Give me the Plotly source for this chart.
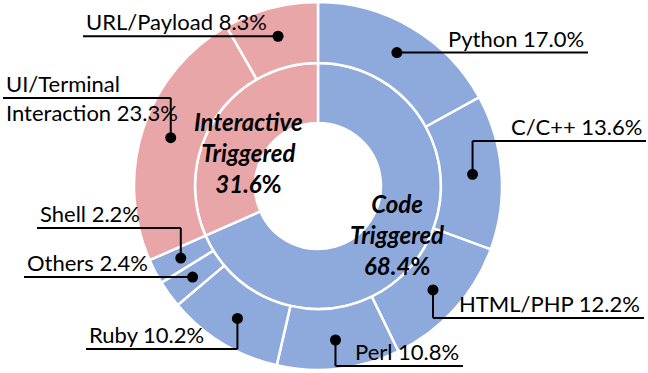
import math

import plotly.graph_objects as go

# ── Data ─────────────────────────────────────────────────────────────────────

GROUPS = ["Code Triggered", "Interactive Triggered"]
GROUP_VALUES = [68.4, 31.6]

SUBS = ["Python", "C/C++", "HTML/PHP", "Perl", "Ruby", "Others", "Shell",
        "UI/Terminal Interaction", "URL/Payload"]
SUB_VALUES = [17.0, 13.6, 12.2, 10.8, 10.2, 2.4, 2.2, 23.3, 8.3]
SUB_GROUP = [0, 0, 0, 0, 0, 0, 0, 1, 1]

BLUE = "#8EA9DC"
PINK = "#E8A6A8"
GROUP_COLORS = [BLUE, PINK]
FONT = "Lato, 'Open Sans', sans-serif"

W, H = 648, 373
CX, CY = 318, 186          # pie centre, px
R_OUT, R_MID, R_HOLE = 184, 123, 63
R_DOT = 155

# label layout: mode ('h' straight / 'v' elbow), elbow y, line end x, text anchor
LABEL_LAYOUT = [
    ("h", None, 588, "right"),
    ("v", 141, 646, "right"),
    ("v", 318, 644, "right"),
    ("v", 366, 463, "right"),
    ("v", 349, 86, "left"),
    ("h", None, 24, "left"),
    ("v", 228, 37, "left"),
    ("v", 98, 3, "left"),
    ("h", None, 83, "left"),
]


def dom(r):
    return dict(x=[(CX - r) / W, (CX + r) / W],
                y=[(H - CY - r) / H, (H - CY + r) / H])


fig = go.Figure()

fig.add_trace(go.Pie(
    labels=GROUPS, values=GROUP_VALUES, sort=False, direction="clockwise",
    rotation=0, hole=R_HOLE / R_MID, domain=dom(R_MID),
    marker=dict(colors=GROUP_COLORS, line=dict(color="white", width=2.5)),
    textinfo="none", hoverinfo="label+value", showlegend=False,
))
fig.add_trace(go.Pie(
    labels=SUBS, values=SUB_VALUES, sort=False, direction="clockwise",
    rotation=0, hole=R_MID / R_OUT, domain=dom(R_OUT),
    marker=dict(colors=[GROUP_COLORS[g] for g in SUB_GROUP],
                line=dict(color="white", width=2.5)),
    textinfo="none", hoverinfo="label+value", showlegend=False,
))

# dots at slice mid-angles, leader lines and labels (shapes sit above the pies)
total = sum(SUB_VALUES)
cum = 0.0
shapes, annotations = [], []
line_style = dict(color="black", width=2)
for name, val, (mode, ey, end_x, anchor) in zip(SUBS, SUB_VALUES, LABEL_LAYOUT):
    theta = 2 * math.pi * (cum + val / 2) / total
    cum += val
    dx = CX + R_DOT * math.sin(theta)
    dy = CY - R_DOT * math.cos(theta)
    if mode == "h":
        shapes.append(dict(type="line", x0=dx, y0=dy, x1=end_x, y1=dy, line=line_style))
        ly = dy
    else:
        shapes.append(dict(type="line", x0=dx, y0=dy, x1=dx, y1=ey, line=line_style))
        shapes.append(dict(type="line", x0=dx, y0=ey, x1=end_x, y1=ey, line=line_style))
        ly = ey
    shapes.append(dict(type="circle", x0=dx - 5.5, y0=dy - 5.5, x1=dx + 5.5, y1=dy + 5.5,
                       fillcolor="black", line=dict(width=0)))
    tx = end_x - 2 if anchor == "right" else end_x + 1
    if name == "UI/Terminal Interaction":
        annotations.append(dict(x=tx, y=ly, text="UI/Terminal", xanchor="left",
                                yanchor="bottom", yshift=-1))
        annotations.append(dict(x=tx, y=ly, text=f"Interaction {val:.1f}%",
                                xanchor="left", yanchor="top", yshift=1))
    else:
        annotations.append(dict(x=tx, y=ly, text=f"{name} {val:.1f}%",
                                xanchor=anchor, yanchor="bottom", yshift=-1))

for s in shapes:
    s.update(xref="x", yref="y", layer="above")
for a in annotations:
    a.update(xref="x", yref="y", showarrow=False,
             font=dict(family=FONT, size=22, color="black"))

center_font = dict(family=FONT, size=24, color="black")
annotations.append(dict(x=248, y=152, xref="x", yref="y", showarrow=False,
                        text=f"<b><i>Interactive<br>Triggered<br>{GROUP_VALUES[1]:.1f}</i>%</b>",
                        font=center_font, align="center"))
annotations.append(dict(x=397, y=234, xref="x", yref="y", showarrow=False,
                        text=f"<b><i>Code<br>Triggered<br>{GROUP_VALUES[0]:.1f}</i>%</b>",
                        font=center_font, align="center"))

fig.update_layout(
    width=W, height=H,
    margin=dict(t=0, b=0, l=0, r=0),
    paper_bgcolor="white", plot_bgcolor="rgba(0,0,0,0)",
    xaxis=dict(range=[0, W], visible=False, fixedrange=True),
    yaxis=dict(range=[H, 0], visible=False, fixedrange=True),
    shapes=shapes,
    annotations=annotations,
)

fig.write_html("out.html", config={"displayModeBar": False},
               post_script="document.body.style.margin = '0';")
